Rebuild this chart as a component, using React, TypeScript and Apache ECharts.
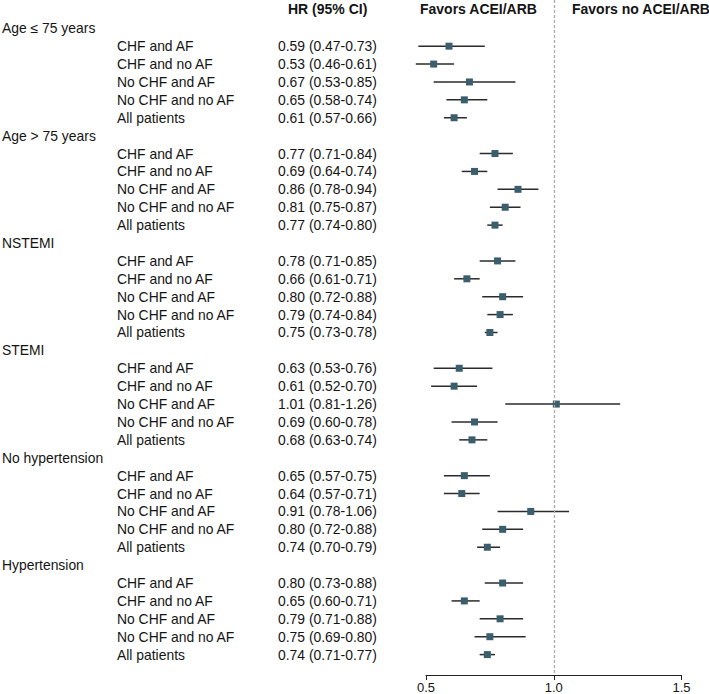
import React, { useEffect, useRef } from "react";
import * as echarts from "echarts";

const groups = ["Age \u2264 75 years", "Age > 75 years", "NSTEMI", "STEMI", "No hypertension", "Hypertension"];
const subgroups = ["CHF and AF", "CHF and no AF", "No CHF and AF", "No CHF and no AF", "All patients"];

const hr = [
  [0.59, 0.53, 0.67, 0.65, 0.61],
  [0.77, 0.69, 0.86, 0.81, 0.77],
  [0.78, 0.66, 0.8, 0.79, 0.75],
  [0.63, 0.61, 1.01, 0.69, 0.68],
  [0.65, 0.64, 0.91, 0.8, 0.74],
  [0.8, 0.65, 0.79, 0.75, 0.74],
];
const lower = [
  [0.47, 0.46, 0.53, 0.58, 0.57],
  [0.71, 0.64, 0.78, 0.75, 0.74],
  [0.71, 0.61, 0.72, 0.74, 0.73],
  [0.53, 0.52, 0.81, 0.6, 0.63],
  [0.57, 0.57, 0.78, 0.72, 0.7],
  [0.73, 0.6, 0.71, 0.69, 0.71],
];
const upper = [
  [0.73, 0.61, 0.85, 0.74, 0.66],
  [0.84, 0.74, 0.94, 0.87, 0.8],
  [0.85, 0.71, 0.88, 0.84, 0.78],
  [0.76, 0.7, 1.26, 0.78, 0.74],
  [0.75, 0.71, 1.06, 0.88, 0.79],
  [0.88, 0.71, 0.88, 0.89, 0.77],
];
const hrText = [
  ["0.59 (0.47-0.73)", "0.53 (0.46-0.61)", "0.67 (0.53-0.85)", "0.65 (0.58-0.74)", "0.61 (0.57-0.66)"],
  ["0.77 (0.71-0.84)", "0.69 (0.64-0.74)", "0.86 (0.78-0.94)", "0.81 (0.75-0.87)", "0.77 (0.74-0.80)"],
  ["0.78 (0.71-0.85)", "0.66 (0.61-0.71)", "0.80 (0.72-0.88)", "0.79 (0.74-0.84)", "0.75 (0.73-0.78)"],
  ["0.63 (0.53-0.76)", "0.61 (0.52-0.70)", "1.01 (0.81-1.26)", "0.69 (0.60-0.78)", "0.68 (0.63-0.74)"],
  ["0.65 (0.57-0.75)", "0.64 (0.57-0.71)", "0.91 (0.78-1.06)", "0.80 (0.72-0.88)", "0.74 (0.70-0.79)"],
  ["0.80 (0.73-0.88)", "0.65 (0.60-0.71)", "0.79 (0.71-0.88)", "0.75 (0.69-0.80)", "0.74 (0.71-0.77)"],
];
const xTicks = [0.5, 1.0, 1.5];

const FONT = '"Liberation Sans", Arial, Helvetica, sans-serif';
const TEXT_COLOR = "#141414";
const ROW_FONT = 13.9;

export default function App() {
  const ref = useRef<HTMLDivElement>(null);
  useEffect(() => {
    const chart = echarts.init(ref.current!, null, { renderer: "svg" });
    const rows: any[] = [];
    groups.forEach((_g, gi) => {
      subgroups.forEach((_s, k) => {
        rows.push([hr[gi][k], lower[gi][k], upper[gi][k], gi * 6 + 1 + k, gi, k]);
      });
    });
    const headerRows = groups.map((_g, gi) => [xTicks[0], gi * 6, gi]);

    const option: any = {
      animation: false,
      grid: { left: 426, right: 27.5, top: 0, height: 677, containLabel: false },
      xAxis: {
        type: "value",
        min: xTicks[0],
        max: xTicks[xTicks.length - 1],
        interval: 0.5,
        axisLine: { show: true, onZero: false, lineStyle: { color: "#222", width: 1 } },
        axisTick: { show: true, length: 5, lineStyle: { color: "#222", width: 1 } },
        axisLabel: {
          show: true,
          margin: 6,
          fontSize: 13,
          fontFamily: FONT,
          color: TEXT_COLOR,
          formatter: (v: number) => v.toFixed(1),
        },
        splitLine: { show: false },
      },
      yAxis: {
        type: "value",
        inverse: true,
        min: -1.58,
        max: 36.14,
        show: false,
      },
      series: [
        {
          type: "custom",
          name: "ci",
          clip: false,
          data: rows,
          encode: { x: 0, y: 3 },
          renderItem: (_params: any, api: any) => {
            const r = api.value(3);
            const c = api.coord([api.value(0), r]);
            const l = api.coord([api.value(1), r]);
            const h = api.coord([api.value(2), r]);
            const s = 7;
            return {
              type: "group",
              children: [
                {
                  type: "line",
                  shape: { x1: l[0], y1: c[1], x2: h[0], y2: c[1] },
                  style: { stroke: "#2b2b2b", lineWidth: 1.5 },
                },
                {
                  type: "rect",
                  shape: { x: c[0] - s / 2, y: c[1] - s / 2, width: s, height: s },
                  style: { fill: "#3a5e6c" },
                },
              ],
            };
          },
          markLine: {
            silent: true,
            symbol: ["none", "none"],
            label: { show: false },
            lineStyle: { color: "#aaaaaa", type: [3, 2], width: 1.3 },
            data: [{ xAxis: 1.0 }],
          },
        },
        {
          type: "custom",
          name: "labels",
          clip: false,
          data: rows,
          encode: { x: 0, y: 3 },
          renderItem: (_params: any, api: any) => {
            const r = api.value(3);
            const gi = api.value(4);
            const k = api.value(5);
            const c = api.coord([api.value(0), r]);
            return {
              type: "group",
              children: [
                {
                  type: "text",
                  style: {
                    text: subgroups[k],
                    x: 117,
                    y: c[1],
                    fill: TEXT_COLOR,
                    fontSize: ROW_FONT,
                    fontFamily: FONT,
                    align: "left",
                    verticalAlign: "middle",
                  },
                },
                {
                  type: "text",
                  style: {
                    text: hrText[gi][k],
                    x: 278,
                    y: c[1],
                    fill: TEXT_COLOR,
                    fontSize: ROW_FONT,
                    fontFamily: FONT,
                    align: "left",
                    verticalAlign: "middle",
                  },
                },
              ],
            };
          },
        },
        {
          type: "custom",
          name: "headers",
          clip: false,
          data: headerRows,
          encode: { x: 0, y: 1 },
          renderItem: (_params: any, api: any) => {
            const c = api.coord([api.value(0), api.value(1)]);
            const gi = api.value(2);
            return {
              type: "text",
              style: {
                text: groups[gi],
                x: 2,
                y: c[1],
                fill: TEXT_COLOR,
                fontSize: ROW_FONT,
                fontFamily: FONT,
                align: "left",
                verticalAlign: "middle",
              },
            };
          },
        },
      ],
      graphic: [
        {
          type: "text",
          left: 288,
          top: 2,
          style: { text: "HR (95% CI)", fill: TEXT_COLOR, fontSize: 14, fontWeight: "bold", fontFamily: FONT },
        },
        {
          type: "text",
          left: 420,
          top: 2,
          style: { text: "Favors ACEI/ARB", fill: TEXT_COLOR, fontSize: 14, fontWeight: "bold", fontFamily: FONT },
        },
        {
          type: "text",
          left: 572,
          top: 2,
          style: { text: "Favors no ACEI/ARB", fill: TEXT_COLOR, fontSize: 14, fontWeight: "bold", fontFamily: FONT },
        },
      ],
    };
    chart.setOption(option);
    return () => chart.dispose();
  }, []);
  return (
    <div
      ref={ref}
      style={{ position: "fixed", left: 0, top: 0, width: 709, height: 694, background: "#fff" }}
    />
  );
}
